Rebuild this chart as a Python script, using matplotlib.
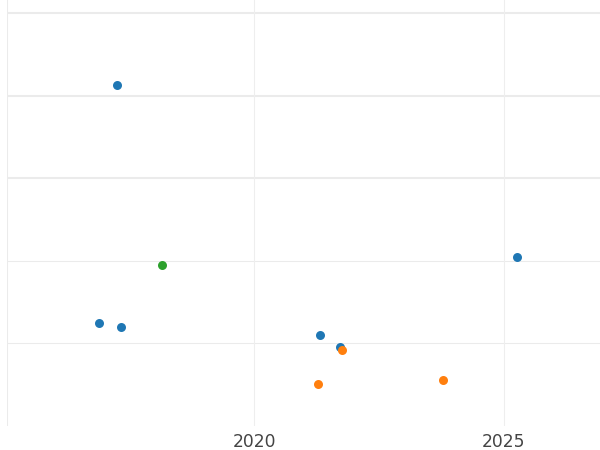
import matplotlib
matplotlib.use("Agg")
import matplotlib.pyplot as plt

blue_x = [2017.25, 2016.89, 2017.33, 2021.31, 2021.71, 2025.26]
blue_y = [4.13, 1.25, 1.20, 1.10, 0.956, 2.05]
green_x = [2018.15]
green_y = [1.95]
orange_x = [2021.27, 2021.75, 2023.78]
orange_y = [0.51, 0.92, 0.557]

x_ticks = [2020, 2025]
x_tick_labels = ["2020", "2025"]

fig = plt.figure(figsize=(6, 4.5), dpi=100)
ax = fig.add_axes([7/600, 24/450, 593/600, 426/450])
ax.set_xlim(2015.04, 2026.93)
ax.set_ylim(0, 5.157)

# grid lines
for yv, lw in [(1, 1.0), (2, 1.0), (3, 2.0), (4, 2.0), (5, 2.0)]:
    ax.axhline(yv, color="#ebebeb", lw=lw * 0.75, zorder=0)
for xv in x_ticks:
    ax.axvline(xv, color="#eeeeee", lw=0.75, zorder=0)
ax.axvline(2015.04, color="#ebebeb", lw=1.5, zorder=0)

ax.scatter(blue_x, blue_y, s=42, color="#1f77b4", zorder=3, linewidths=0)
ax.scatter(green_x, green_y, s=42, color="#2ca02c", zorder=3, linewidths=0)
ax.scatter(orange_x, orange_y, s=42, color="#ff7f0e", zorder=3, linewidths=0)

ax.set_xticks(x_ticks)
ax.set_xticklabels(x_tick_labels, fontsize=12.3, color="#444444")
ax.tick_params(axis="x", length=0, pad=5)
ax.set_yticks([])
for s in ax.spines.values():
    s.set_visible(False)

fig.savefig("out.png", dpi=100)
